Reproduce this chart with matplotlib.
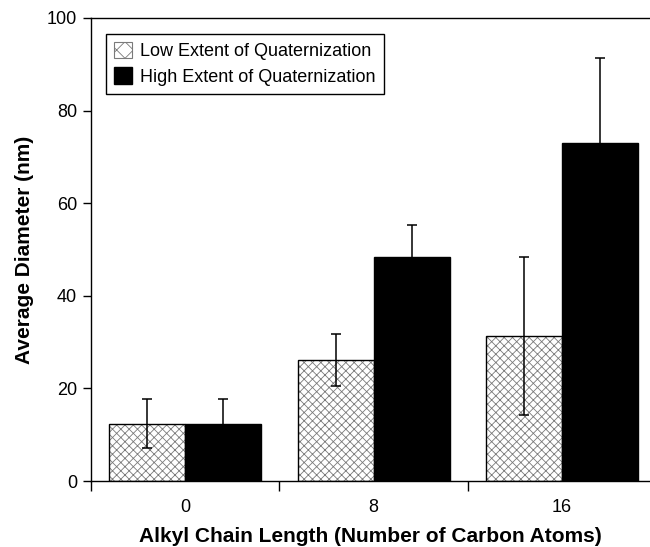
import matplotlib
matplotlib.use("Agg")
import matplotlib.pyplot as plt
from matplotlib.patches import Patch
import numpy as np

# values
chain_lengths = ["0", "8", "16"]
low_mean = [12.4, 26.1, 31.3]
low_err = [5.3, 5.6, 17.1]
high_mean = [12.4, 48.4, 73.1]
high_err = [5.3, 6.8, 18.3]

plt.rcParams['font.family'] = ['Liberation Sans', 'DejaVu Sans']
plt.rcParams['hatch.linewidth'] = 0.6
plt.rcParams['hatch.color'] = '#7a7a7a'

fig = plt.figure(figsize=(6.5, 5.47), dpi=100)
ax = fig.add_axes([91 / 650, 66 / 547, 559 / 650, 463 / 547])

x = np.arange(len(chain_lengths))
w = 0.403

# hatched low bars: hatch first, then black outline
ax.bar(x - w / 2, low_mean, w, color='white', hatch='xxxx', edgecolor='#7a7a7a',
       linewidth=0, zorder=2)
ax.bar(x - w / 2, low_mean, w, color='none', edgecolor='black', linewidth=1.0, zorder=3)
ax.bar(x + w / 2, high_mean, w, color='black', edgecolor='black', linewidth=1.0, zorder=3)

ax.errorbar(x - w / 2, low_mean, yerr=low_err, fmt='none', ecolor='black',
            elinewidth=1.1, capsize=3.5, capthick=1.1, zorder=4)
ax.errorbar(x + w / 2, high_mean, yerr=high_err, fmt='none', ecolor='black',
            elinewidth=1.1, capsize=3.5, capthick=1.1, zorder=4)

ax.set_xlim(-0.5, 2.466)
ax.set_ylim(0, 100)
ax.set_yticks([0, 20, 40, 60, 80, 100])

# group boundary ticks below the axis, category labels between them
ax.set_xticks([-0.5, 0.5, 1.5])
ax.set_xticklabels([])
ax.set_xticks(x, minor=True)
ax.set_xticklabels(chain_lengths, minor=True)
ax.tick_params(axis='x', which='major', direction='out', length=7.5, width=1)
ax.tick_params(axis='x', which='minor', length=0, pad=13, labelsize=13)
ax.tick_params(axis='y', direction='out', length=6, width=1, labelsize=13, pad=4)

ax.spines['right'].set_visible(False)
for s in ['left', 'bottom', 'top']:
    ax.spines[s].set_linewidth(1.0)

ax.set_xlabel('Alkyl Chain Length (Number of Carbon Atoms)', fontsize=15,
              fontweight='bold', labelpad=8)
ax.set_ylabel('Average Diameter (nm)', fontsize=15, fontweight='bold', labelpad=9)

handles = [Patch(facecolor='white', edgecolor='#7a7a7a', hatch='xx', linewidth=0.8),
           Patch(facecolor='black', edgecolor='black')]
leg = ax.legend(handles, ['Low Extent of Quaternization', 'High Extent of Quaternization'],
                loc='upper left', bbox_to_anchor=(0.027, 0.966), fontsize=13,
                frameon=True, fancybox=False, edgecolor='black', framealpha=1,
                handlelength=1.0, handleheight=1.0, handletextpad=0.45,
                borderpad=0.45, labelspacing=0.4, borderaxespad=0)
leg.get_frame().set_linewidth(1.0)

fig.savefig('out.png', dpi=100)
